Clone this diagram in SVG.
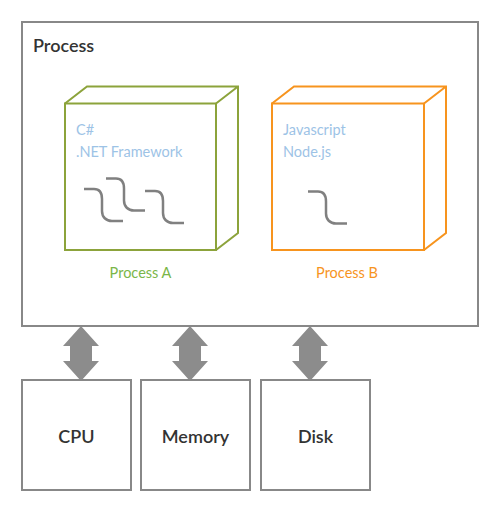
<svg xmlns="http://www.w3.org/2000/svg" width="500" height="511" viewBox="0 0 500 511">
<style>
text{font-family:Lato,"Noto Sans","Liberation Sans",sans-serif}
.box{fill:#fff;stroke:#888;stroke-width:2}
.title{font-size:18px;fill:#333;font-weight:600}
.res{font-size:18px;fill:#333;text-anchor:middle;font-weight:600}
.lang{font-size:14.5px;fill:#9dc3e6}
.sq{fill:none;stroke:#808080;stroke-width:2.5}
.arrow{fill:#8c8c8c}
.cubeA{fill:#fff;stroke:#8ca33b;stroke-width:2;stroke-linejoin:miter}
.cubeB{fill:#fff;stroke:#f7941e;stroke-width:2;stroke-linejoin:miter}
.lbl{font-size:14.5px;text-anchor:middle}
</style>
<defs>
<path id="squig" d="M0,0 h10 c6,0 8,4 8,10 v12 c0,6 4,10 10,10 h11"/>
<path id="dbl" d="M0,0 L18,20 H11 V35 H18 L0,55 L-18,35 H-11 V20 H-18 Z"/>
</defs>
<g id="process">
<rect class="box" x="22" y="22" width="456" height="304"/>
<text class="title" x="33" y="52">Process</text>
</g>
<g id="processA">
<path class="cubeA" d="M65,103.5 L87,86.5 H238 V233 L216,250 M216,103.5 L238,86.5"/>
<rect class="cubeA" x="65" y="103.5" width="151" height="146.5"/>
<text class="lang" x="76" y="135">C#</text>
<text class="lang" x="76" y="157">.NET Framework</text>
<use href="#squig" class="sq" x="84" y="189"/>
<use href="#squig" class="sq" x="106" y="178.5"/>
<use href="#squig" class="sq" x="145" y="191"/>
<text class="lbl" x="140.5" y="278" fill="#7ab648">Process A</text>
</g>
<g id="processB">
<path class="cubeB" d="M272,103.5 L294,86.5 H446 V233 L424,250 M424,103.5 L446,86.5"/>
<rect class="cubeB" x="272" y="103.5" width="152" height="146.5"/>
<text class="lang" x="283" y="135">Javascript</text>
<text class="lang" x="283" y="157">Node.js</text>
<use href="#squig" class="sq" x="308" y="191.5"/>
<text class="lbl" x="347" y="278" fill="#f7941e">Process B</text>
</g>
<g id="connectors">
<use href="#dbl" class="arrow" x="81" y="326"/>
<use href="#dbl" class="arrow" x="190" y="326"/>
<use href="#dbl" class="arrow" x="310" y="326"/>
</g>
<g id="cpu">
<rect class="box" x="22" y="380" width="109" height="110"/>
<text class="res" x="76.5" y="443">CPU</text>
</g>
<g id="memory">
<rect class="box" x="141" y="380" width="109" height="110"/>
<text class="res" x="195.5" y="443">Memory</text>
</g>
<g id="disk">
<rect class="box" x="261" y="380" width="109" height="110"/>
<text class="res" x="315.5" y="443">Disk</text>
</g>
</svg>
